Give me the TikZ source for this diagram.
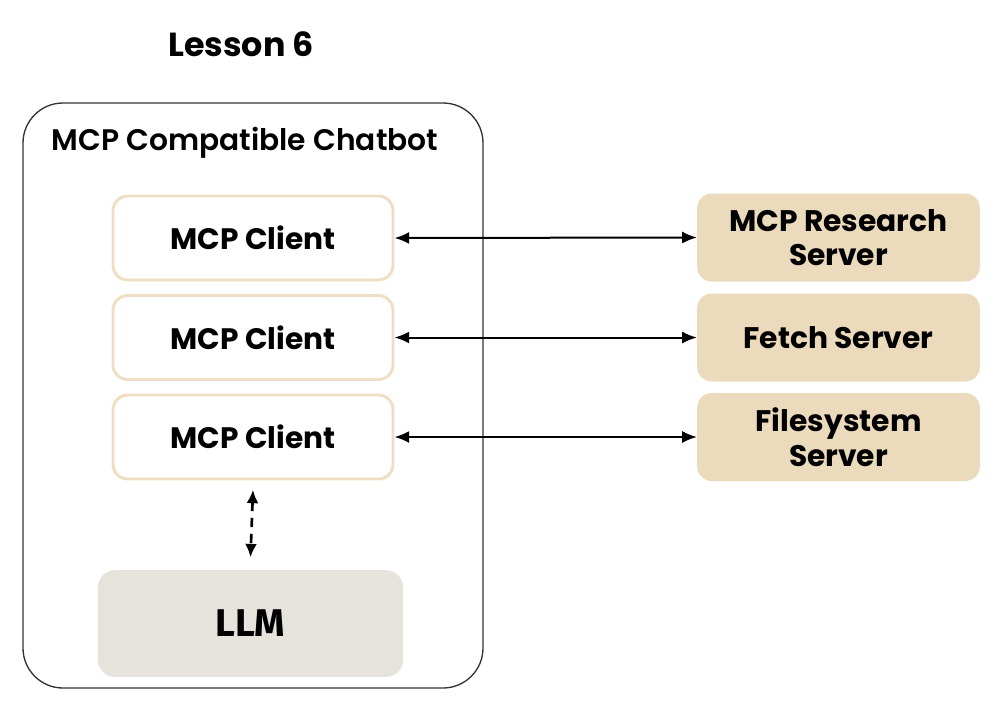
\documentclass[tikz,border=0pt]{standalone}
\usepackage{fontspec}
\setmainfont{Poppins}
\newfontfamily\popbold{Poppins Bold}
\newfontfamily\popsemi{Poppins SemiBold}
\newfontfamily\llmfont{Fira Sans Bold}
\usetikzlibrary{arrows.meta}
\definecolor{clientborder}{HTML}{EEDFC4}
\definecolor{serverfill}{HTML}{EBDABB}
\definecolor{llmfill}{HTML}{E6E3DD}
\definecolor{outerline}{HTML}{333333}
\begin{document}
\begin{tikzpicture}[x=0.75pt,y=-0.75pt,
  clientbox/.style={draw=clientborder,line width=2.2pt,rounded corners=11pt,fill=white,
    minimum width=210pt,minimum height=63pt,font=\popbold\fontsize{22.2}{26}\selectfont},
  serverbox/.style={fill=serverfill,rounded corners=11pt,minimum width=212pt,minimum height=66pt,
    align=center,font=\popbold\fontsize{22.3}{26}\selectfont},
  conn/.style={line width=1.5pt,{Latex[length=11pt,width=9pt]}-{Latex[length=11pt,width=9pt]}},
  ]
\useasboundingbox (0,0) rectangle (1003,715);
\node[font=\popbold\fontsize{25}{28}\selectfont] (title) at (241,44) {Lesson 6};
\draw[outerline,line width=1pt,rounded corners=30pt] (23,103) rectangle (483,688);
\node[anchor=west,font=\popsemi\fontsize{22.3}{26}\selectfont] (chat) at (47,143) {MCP Compatible Chatbot};
\node[clientbox] (c1) at (253,238) {MCP Client};
\node[clientbox] (c2) at (253,337.5) {MCP Client};
\node[clientbox] (c3) at (253,437) {MCP Client};
\node[serverbox] (s1) at (838.5,237.5) {MCP Research\\Server};
\node[serverbox] (s2) at (838.5,337.5) {Fetch Server};
\node[serverbox] (s3) at (838.5,437) {Filesystem\\Server};
\node[fill=llmfill,rounded corners=13pt,minimum width=229pt,minimum height=80pt,
  font=\llmfont\fontsize{29}{32}\selectfont] (llm) at (250.5,623.5) {LLM};
\draw[conn] (c1.east) -- (s1.west);
\draw[conn] (c2.east) -- (s2.west);
\draw[conn] (c3.east) -- (s3.west);
\draw[line width=2pt,dash pattern=on 7pt off 5pt,{Latex[length=10pt,width=9pt]}-{Latex[length=10pt,width=9pt]}]
  ([yshift=-7pt]c3.south) -- ([yshift=9.5pt]llm.north);
\end{tikzpicture}
\end{document}
